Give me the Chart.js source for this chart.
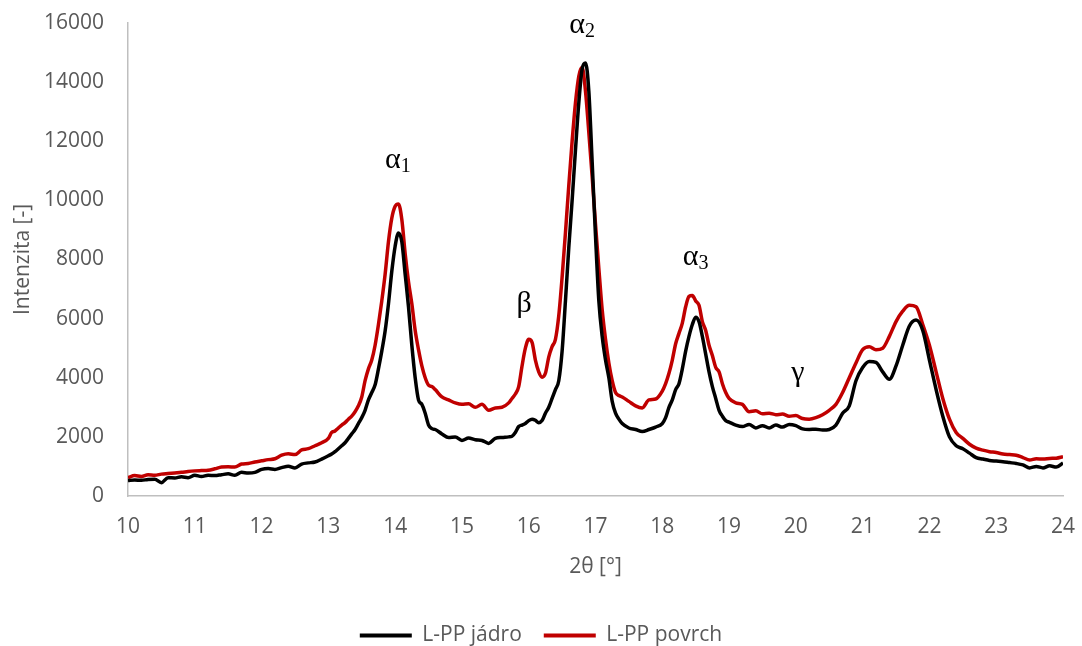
<!DOCTYPE html>
<html lang="cs">
<head>
<meta charset="utf-8">
<title>L-PP difraktogram</title>
<script src="https://cdn.jsdelivr.net/npm/chart.js@4.4.1/dist/chart.umd.min.js"></script>
<style>
    html, body { margin: 0; padding: 0; background: #ffffff; }
    .chart-container { position: relative; width: 1082px; height: 646px; }
</style>
</head>
<body>
<div class="chart-container"><canvas id="xrdChart"></canvas></div>
<script>
// 2θ positions shared by both patterns (denser around the sharp peaks)
const twoTheta = [
    10.0, 10.1, 10.2, 10.3, 10.4, 10.5, 10.6, 10.7, 10.8, 10.9, 11.0, 11.1, 11.2, 11.3, 11.4,
    11.5, 11.6, 11.7, 11.8, 11.9, 12.0, 12.1, 12.2, 12.3, 12.4, 12.5, 12.6, 12.7, 12.8, 12.9,
    13.00, 13.05, 13.10, 13.15, 13.20, 13.25, 13.30, 13.35, 13.40, 13.45, 13.50, 13.55, 13.60,
    13.65, 13.70, 13.75, 13.80, 13.85, 13.90, 13.95, 14.00, 14.05, 14.10, 14.15, 14.20, 14.25,
    14.30, 14.35, 14.40, 14.45, 14.50, 14.55, 14.60,
    14.7, 14.8, 14.9, 15.0, 15.1, 15.2, 15.3, 15.4, 15.5, 15.6, 15.7,
    15.75, 15.80, 15.85, 15.90, 15.95, 16.00, 16.05, 16.10, 16.15, 16.20, 16.25, 16.30, 16.35,
    16.40, 16.45, 16.50, 16.55, 16.60, 16.65, 16.70, 16.75, 16.80, 16.85, 16.90, 16.95, 17.00,
    17.05, 17.10, 17.15, 17.20, 17.25, 17.30, 17.35, 17.40,
    17.5, 17.6, 17.7, 17.8, 17.9, 18.0,
    18.05, 18.10, 18.15, 18.20, 18.25, 18.30, 18.35, 18.40, 18.45, 18.50, 18.55, 18.60, 18.65,
    18.70, 18.75, 18.80, 18.85, 18.90, 18.95,
    19.0, 19.1, 19.2, 19.3, 19.4, 19.5, 19.6, 19.7, 19.8, 19.9, 20.0, 20.1, 20.2, 20.3, 20.4,
    20.5, 20.6, 20.7,
    20.8, 20.9, 21.0, 21.1, 21.2, 21.3, 21.4, 21.5, 21.6, 21.7, 21.8, 21.9, 22.0, 22.1, 22.2,
    22.3, 22.4, 22.5, 22.6, 22.7, 22.8, 22.9, 23.0, 23.1, 23.2, 23.3, 23.4, 23.5, 23.6, 23.7,
    23.8, 23.9, 24.0
];

// L-PP jádro (black)
const jadro = [
    520, 540, 530, 560, 570, 450, 620, 610, 650, 620, 700, 660, 700, 690, 720,
    750, 700, 800, 780, 800, 900, 930, 900, 960, 1010, 950, 1080, 1120, 1150, 1250,
    1360, 1420, 1500, 1600, 1700, 1800, 1950, 2100, 2250, 2450, 2650, 2900, 3250,
    3500, 3760, 4300, 4900, 5580, 6500, 7600, 8450, 8900, 8600, 7500, 6400, 5100,
    4000, 3250, 3100, 2800, 2400, 2280, 2250,
    2100, 1980, 2000, 1880, 1960, 1900, 1880, 1780, 1950, 1980, 2000,
    2020, 2150, 2350, 2400, 2450, 2550, 2600, 2560, 2480, 2550, 2800, 3000, 3300,
    3600, 3900, 4900, 6600, 8400, 10000, 11700, 13300, 14450, 14650, 13700, 11300, 8800,
    6600, 5400, 4600, 4000, 3200, 2800, 2600, 2450,
    2300, 2250, 2180, 2250, 2330, 2450,
    2650, 3000, 3250, 3600, 3800, 4300, 4900, 5400, 5800, 6050, 5900, 5400, 4800,
    4200, 3700, 3300, 2900, 2700, 2550,
    2500, 2400, 2350, 2420, 2300, 2380, 2300, 2400, 2330, 2420, 2380, 2270, 2250, 2260, 2230,
    2250, 2400, 2800,
    3050, 3900, 4350, 4550, 4520, 4200, 3950, 4400, 5100, 5750, 5950, 5600, 4600, 3600, 2700,
    2000, 1700, 1600, 1450, 1300, 1250, 1200, 1180, 1160, 1130, 1100, 1050, 950, 1000, 950,
    1020, 980, 1120
];

// L-PP povrch (red)
const povrch = [
    620, 690, 660, 720, 700, 740, 760, 780, 800, 830, 850, 860, 870, 920, 980,
    990, 980, 1080, 1100, 1150, 1190, 1230, 1260, 1380, 1430, 1400, 1560, 1600, 1700, 1800,
    1950, 2150, 2200, 2300, 2400, 2480, 2600, 2700, 2850, 3050, 3350, 3900, 4300,
    4600, 5100, 5800, 6600, 7500, 8600, 9400, 9800, 9880, 9350, 8200, 7250, 6500,
    5600, 4950, 4400, 4000, 3750, 3700, 3600,
    3350, 3250, 3150, 3100, 3120, 3000, 3100, 2900, 2980, 3000, 3150,
    3300, 3450, 3700, 4400, 5000, 5300, 5200, 4600, 4200, 4020, 4150, 4700, 5050,
    5300, 6100, 7400, 8900, 10500, 12000, 13300, 14200, 14500, 13700, 12300, 10800, 9200,
    7700, 6300, 5300, 4500, 3900, 3500, 3400, 3350,
    3200, 3050, 2980, 3250, 3280, 3550,
    3800, 4150, 4600, 5150, 5500, 5850, 6400, 6750, 6780, 6600, 6450, 5900, 5600,
    5100, 4750, 4350, 4200, 3800, 3500,
    3300, 3150, 3100, 2850, 2880, 2780, 2800, 2750, 2770, 2700, 2720, 2620, 2600, 2650, 2750,
    2900, 3100, 3500,
    4000, 4500, 4950, 5050, 4950, 5000, 5400, 5900, 6250, 6450, 6400, 5800, 5100, 4200, 3300,
    2600, 2150, 1950, 1750, 1620, 1550, 1500, 1470, 1420, 1400, 1380, 1300, 1220, 1260, 1250,
    1270, 1280, 1330
];

// Peak labels (symbol, subscript, position in data units)
const peakSymbols = ['α', 'β', 'α', 'α', 'γ'];
const peakSubs = ['1', '', '2', '3', ''];
const peakX = [14.04, 15.93, 16.80, 18.50, 20.03];
const peakY = [11100, 6230, 15660, 7800, 3880];

const textColor = '#595959';
const uiFont = '"Open Sans", "Liberation Sans", sans-serif';

/**
 * Draws the crystal phase labels above the peaks
 */
const peakLabelPlugin = {
    id: 'peakLabels',
    afterDatasetsDraw(chart) {
        const { ctx, scales } = chart;
        const bigFont = '30px "Liberation Serif", "DejaVu Serif", serif';
        const subFont = '20px "Liberation Serif", "DejaVu Serif", serif';

        ctx.save();
        ctx.fillStyle = '#000000';
        ctx.textAlign = 'left';
        ctx.textBaseline = 'alphabetic';
        peakSymbols.forEach((symbol, i) => {
            const px = scales.x.getPixelForValue(peakX[i]);
            const py = scales.y.getPixelForValue(peakY[i]);
            ctx.font = bigFont;
            const w = ctx.measureText(symbol).width;
            ctx.font = subFont;
            const ws = peakSubs[i] ? ctx.measureText(peakSubs[i]).width : 0;
            const left = px - (w + ws) / 2;
            ctx.font = bigFont;
            ctx.fillText(symbol, left, py);
            if (peakSubs[i]) {
                ctx.font = subFont;
                ctx.fillText(peakSubs[i], left + w, py + 4);
            }
        });
        ctx.restore();
    }
};

function toPoints(values) {
    return values.map((v, i) => ({ x: twoTheta[i], y: v }));
}

const ctx = document.getElementById('xrdChart').getContext('2d');

new Chart(ctx, {
    type: 'line',
    data: {
        datasets: [
            {
                label: 'L-PP jádro',
                data: toPoints(jadro),
                borderColor: '#000000',
                backgroundColor: '#000000',
                borderWidth: 3.5,
                pointRadius: 0,
                cubicInterpolationMode: 'monotone'
            },
            {
                label: 'L-PP povrch',
                data: toPoints(povrch),
                borderColor: '#C00000',
                backgroundColor: '#C00000',
                borderWidth: 3.5,
                pointRadius: 0,
                cubicInterpolationMode: 'monotone'
            }
        ]
    },
    options: {
        responsive: true,
        maintainAspectRatio: false,
        animation: false,
        layout: {
            padding: { top: 23, right: 0, left: 0, bottom: -10 }
        },
        scales: {
            x: {
                type: 'linear',
                min: 10,
                max: 24,
                afterFit: scale => {
                    // fixed band under the plot; right gap kept here so the legend stays centred
                    scale.height = 107;
                    scale.paddingLeft = 0;
                    scale.paddingRight = 19;
                },
                grid: { display: false },
                border: { display: true, color: '#bfbfbf', width: 1.5 },
                ticks: {
                    stepSize: 1,
                    padding: 10,
                    color: textColor,
                    font: { family: uiFont, size: 21 }
                },
                title: {
                    display: true,
                    text: '2θ [°]',
                    color: textColor,
                    font: { family: uiFont, size: 21 },
                    padding: { top: 0, bottom: 23 }
                }
            },
            y: {
                min: 0,
                max: 16000,
                afterFit: scale => {
                    scale.width = 128;
                    scale.paddingTop = 0;
                    scale.paddingBottom = 0;
                },
                grid: { display: false },
                border: { display: true, color: '#bfbfbf', width: 1.5 },
                ticks: {
                    stepSize: 2000,
                    padding: 16,
                    color: textColor,
                    font: { family: uiFont, size: 21 },
                    callback: value => String(value)
                },
                title: {
                    display: true,
                    text: 'Intenzita [-]',
                    color: textColor,
                    font: { family: uiFont, size: 21 },
                    padding: { top: 10, bottom: 0 }
                }
            }
        },
        plugins: {
            legend: {
                position: 'bottom',
                labels: {
                    boxWidth: 52,
                    boxHeight: 4,
                    padding: 22,
                    color: textColor,
                    font: { family: uiFont, size: 21 },
                    generateLabels: chart => {
                        const items = Chart.defaults.plugins.legend.labels.generateLabels(chart);
                        items.forEach(item => {
                            item.lineWidth = 0;
                            item.fillStyle = item.strokeStyle;
                        });
                        return items;
                    }
                }
            },
            tooltip: { enabled: false }
        }
    },
    plugins: [peakLabelPlugin]
});
</script>
</body>
</html>
